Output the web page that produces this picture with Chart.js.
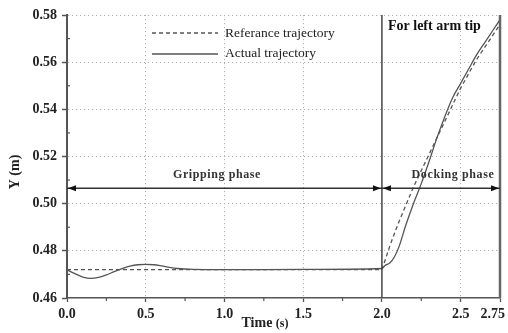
<!DOCTYPE html>
<html>
<head>
<meta charset="utf-8">
<script src="https://cdn.jsdelivr.net/npm/chart.js@4/dist/chart.umd.min.js"></script>
<style>
  html, body { margin: 0; padding: 0; background: #fff; }
  #wrap { width: 508px; height: 333px; }
</style>
</head>
<body>
<div id="wrap"><canvas id="c" width="508" height="333"></canvas></div>
<script>
// Reference (planned) trajectory of the left arm tip
const refTime = [0, 2.0, 2.05, 2.1, 2.15, 2.2, 2.25, 2.3, 2.35, 2.4, 2.45, 2.5, 2.55, 2.6, 2.65, 2.7, 2.75];
const refY    = [0.472, 0.472, 0.482, 0.491, 0.499, 0.507, 0.514, 0.521, 0.528, 0.535, 0.542, 0.549, 0.555, 0.561, 0.566, 0.571, 0.576];

// Measured (actual) trajectory
const actTime = [0, 0.05, 0.1, 0.15, 0.2, 0.25, 0.3, 0.35, 0.4, 0.45, 0.5, 0.55, 0.6, 0.65, 0.7, 0.8, 1.0, 1.5,
                 2.0, 2.02, 2.05, 2.08, 2.11, 2.15, 2.2, 2.25, 2.3, 2.35, 2.4, 2.45, 2.5, 2.55, 2.6, 2.65, 2.7, 2.75];
const actY    = [0.4720, 0.4703, 0.4689, 0.4683, 0.4687, 0.4698, 0.4712, 0.4725, 0.4735, 0.4741, 0.4743, 0.4741, 0.4736, 0.4730, 0.4725, 0.4721, 0.4720, 0.4721,
                 0.4725, 0.4738, 0.4748, 0.4775, 0.4820, 0.4905, 0.5000, 0.5085, 0.5180, 0.5280, 0.5370, 0.5450, 0.5510, 0.5570, 0.5630, 0.5680, 0.5730, 0.5780];

// Axis ticks
const xTicks = [0, 0.5, 1.0, 1.5, 2.0, 2.5, 2.75];
const xTickLabels = ['0.0', '0.5', '1.0', '1.5', '2.0', '2.5', '2.75'];
const xMinorTicks = [0.25, 0.75, 1.25, 1.75, 2.25];
const yTicks = [0.46, 0.48, 0.50, 0.52, 0.54, 0.56, 0.58];
const yMinorTicks = [0.47, 0.49, 0.51, 0.53, 0.55, 0.57];

// Phases
const phaseStart = [0, 2.0];
const phaseEnd = [2.0, 2.75];
const phaseLabels = ['Gripping phase', 'Docking phase'];
const phaseArrowY = 0.5065;
const phaseSwitch = 2.0;

const SERIF = '"Liberation Serif", "Times New Roman", serif';
const AXIS_COLOR = '#555';
const GRID_COLOR = '#b0b0b0';

function toPoints(xs, ys) { return xs.map((x, i) => ({ x: x, y: ys[i] })); }

function arrowHead(ctx, x, y, dir) {
  ctx.beginPath();
  ctx.moveTo(x, y);
  ctx.lineTo(x - dir * 8, y - 3);
  ctx.lineTo(x - dir * 8, y + 3);
  ctx.closePath();
  ctx.fill();
}

const decorations = {
  id: 'decorations',
  afterDatasetsDraw(chart) {
    const { ctx, chartArea: a, scales: { x, y } } = chart;
    ctx.save();

    // phase switch line and right frame
    ctx.strokeStyle = '#444';
    ctx.lineWidth = 1.5;
    ctx.beginPath();
    ctx.moveTo(x.getPixelForValue(phaseSwitch), a.top);
    ctx.lineTo(x.getPixelForValue(phaseSwitch), a.bottom);
    ctx.stroke();
    ctx.strokeStyle = '#666';
    ctx.lineWidth = 2.5;
    ctx.beginPath();
    ctx.moveTo(x.getPixelForValue(2.75), a.top);
    ctx.lineTo(x.getPixelForValue(2.75), a.bottom);
    ctx.stroke();

    // minor ticks
    ctx.strokeStyle = AXIS_COLOR;
    ctx.lineWidth = 1.2;
    xMinorTicks.forEach(v => {
      const px = x.getPixelForValue(v);
      ctx.beginPath(); ctx.moveTo(px, a.bottom); ctx.lineTo(px, a.bottom + 3); ctx.stroke();
    });
    yMinorTicks.forEach(v => {
      const py = y.getPixelForValue(v);
      ctx.beginPath(); ctx.moveTo(a.left, py); ctx.lineTo(a.left + 3, py); ctx.stroke();
    });

    // phase arrows
    const ay = y.getPixelForValue(phaseArrowY);
    ctx.strokeStyle = '#333';
    ctx.fillStyle = '#111';
    ctx.lineWidth = 1.5;
    phaseStart.forEach((s, i) => {
      const x0 = x.getPixelForValue(s), x1 = x.getPixelForValue(phaseEnd[i]);
      ctx.beginPath(); ctx.moveTo(x0, ay); ctx.lineTo(x1, ay); ctx.stroke();
      arrowHead(ctx, x0 + 1, ay, -1);
      arrowHead(ctx, x1 - 1, ay, 1);
    });
    ctx.font = 'bold 12px ' + SERIF;
    ctx.letterSpacing = '0.6px';
    ctx.fillStyle = '#333';
    ctx.textAlign = 'center';
    ctx.textBaseline = 'middle';
    ctx.fillText(phaseLabels[0], 217, ay - 13);
    ctx.fillText(phaseLabels[1], 453, ay - 13);
    ctx.letterSpacing = '0px';

    // annotation
    ctx.font = 'bold 14px ' + SERIF;
    ctx.fillStyle = '#111';
    ctx.textAlign = 'left';
    ctx.fillText('For left arm tip', 388, 26);

    // legend
    ctx.strokeStyle = '#555';
    ctx.lineWidth = 1.3;
    ctx.setLineDash([4, 3]);
    ctx.beginPath(); ctx.moveTo(152, 33); ctx.lineTo(218, 33); ctx.stroke();
    ctx.setLineDash([]);
    ctx.beginPath(); ctx.moveTo(152, 54); ctx.lineTo(218, 54); ctx.stroke();
    ctx.font = '13.5px ' + SERIF;
    ctx.fillStyle = '#222';
    ctx.fillText('Referance trajectory', 225, 33);
    ctx.fillText('Actual trajectory', 225, 53);

    // x tick labels
    ctx.font = 'bold 14px ' + SERIF;
    ctx.fillStyle = '#222';
    ctx.textAlign = 'center';
    xTicks.forEach((v, i) => {
      let px = x.getPixelForValue(v);
      const w = ctx.measureText(xTickLabels[i]).width;
      px = Math.min(px, chart.width - 3 - w / 2);
      ctx.fillText(xTickLabels[i], px, a.bottom + 16);
    });

    // x axis title: bold "Time" followed by a smaller "(s)"
    ctx.textAlign = 'left';
    ctx.font = 'bold 14px ' + SERIF;
    const wTime = ctx.measureText('Time ').width;
    ctx.font = 'bold 12px ' + SERIF;
    const wUnit = ctx.measureText('(s)').width;
    const tx = 265 - (wTime + wUnit) / 2;
    ctx.font = 'bold 14px ' + SERIF;
    ctx.fillText('Time ', tx, a.bottom + 25);
    ctx.font = 'bold 12px ' + SERIF;
    ctx.fillText('(s)', tx + wTime, a.bottom + 26);

    // y axis title
    ctx.textAlign = 'center';
    ctx.font = 'bold 14px ' + SERIF;
    ctx.translate(15, 172);
    ctx.rotate(-Math.PI / 2);
    ctx.fillText('Y (m)', 0, 0);
    ctx.restore();
  }
};

new Chart(document.getElementById('c'), {
  type: 'line',
  data: {
    datasets: [
      {
        label: 'Referance trajectory',
        data: toPoints(refTime, refY),
        borderColor: '#555',
        borderWidth: 1.3,
        borderDash: [4, 3],
        pointRadius: 0,
        tension: 0,
        fill: false
      },
      {
        label: 'Actual trajectory',
        data: toPoints(actTime, actY),
        borderColor: '#555',
        borderWidth: 1.3,
        pointRadius: 0,
        cubicInterpolationMode: 'monotone',
        fill: false
      }
    ]
  },
  options: {
    responsive: false,
    animation: false,
    events: [],
    layout: { padding: { top: 15, right: 8, left: 0, bottom: 0 }, autoPadding: false },
    plugins: { legend: { display: false }, tooltip: { enabled: false } },
    scales: {
      x: {
        type: 'linear',
        min: 0,
        max: 2.75,
        afterBuildTicks: s => { s.ticks = xTicks.map(v => ({ value: v })); },
        afterFit: s => { s.height = 35; },
        ticks: { display: false },
        grid: {
          color: c => (c.tick && (c.tick.value === 2.0 || c.tick.value === 0)) ? 'rgba(0,0,0,0)' : GRID_COLOR,
          lineWidth: 1,
          tickLength: 4,
          tickColor: AXIS_COLOR,
          tickWidth: 1.3
        },
        border: { display: true, color: AXIS_COLOR, width: 1.5, dash: [1.2, 2.8] }
      },
      y: {
        min: 0.46,
        max: 0.58,
        afterBuildTicks: s => { s.ticks = yTicks.map(v => ({ value: v })); },
        afterFit: s => { s.width = 67; },
        ticks: {
          color: '#222',
          padding: 5,
          font: { family: SERIF, size: 14, weight: 'bold' },
          callback: v => v.toFixed(2)
        },
        grid: {
          color: c => (c.tick && c.tick.value === 0.46) ? 'rgba(0,0,0,0)' : GRID_COLOR,
          lineWidth: 1,
          tickLength: 5,
          tickColor: AXIS_COLOR,
          tickWidth: 1.5
        },
        border: { display: true, color: AXIS_COLOR, width: 2, dash: [1.2, 2.8] }
      }
    }
  },
  plugins: [decorations]
});
</script>
</body>
</html>
